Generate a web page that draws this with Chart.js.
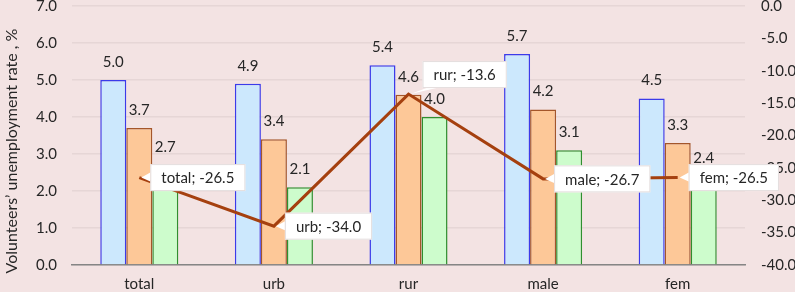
<!DOCTYPE html>
<html>
<head>
<meta charset="utf-8">
<script src="https://cdn.jsdelivr.net/npm/chart.js@4.4.1/dist/chart.umd.min.js"></script>
<style>
  body { margin: 0; background: #f3e3e3; }
  #wrap { position: relative; width: 795px; height: 292px; overflow: hidden; background: #f3e3e3; }
  #holder { position: absolute; left: 0; top: -19px; width: 795px; height: 313px; }
</style>
</head>
<body>
<div id="wrap"><div id="holder"><canvas id="grafico" width="795" height="313"></canvas></div></div>
<script>
// datos del grafico
const categorias = ["total", "urb", "rur", "male", "fem"];
const serieAzul = [5.0, 4.9, 5.4, 5.7, 4.5];
const serieNaranja = [3.7, 3.4, 4.6, 4.2, 3.3];
const serieVerde = [2.7, 2.1, 4.0, 3.1, 2.4];
const serieLinea = [-26.5, -34.0, -13.6, -26.7, -26.5];
const ejeIzq = { min: 0, max: 7, step: 1 };
const ejeDer = { min: -40, max: 0, step: 5 };
const tituloEje = "Volunteers\u2019 unemployment rate , %";

// donde va cada globo de la linea (solo estilo)
const globoLado = ["right", "right", "above", "right", "right"];

const fuente = "Lato, 'Open Sans', sans-serif";

// Plugin que pinta los valores encima de las barras y los globos de la linea
const etiquetas = {
  id: "etiquetas",
  afterDatasetsDraw(chart) {
    const ctx = chart.ctx;
    ctx.save();
    ctx.font = "15px " + fuente;
    ctx.fillStyle = "#262626";
    ctx.textAlign = "center";
    ctx.textBaseline = "middle";
    for (let d = 0; d < 3; d++) {
      const meta = chart.getDatasetMeta(d);
      meta.data.forEach((bar, i) => {
        const v = chart.data.datasets[d].data[i];
        ctx.fillText(v.toFixed(1), bar.x, bar.y - 18);
      });
    }

    // globos de la serie linea
    const metaL = chart.getDatasetMeta(3);
    ctx.font = "15px " + fuente;
    metaL.data.forEach((pt, i) => {
      const txt = categorias[i] + "; " + serieLinea[i].toFixed(1);
      const w = ctx.measureText(txt).width + 22;
      const h = 27;
      let bx, by, base;
      if (globoLado[i] === "above") {
        bx = pt.x + 14;
        by = pt.y - 6 - h;
        base = [[bx + 4, by + h], [bx + 14, by + h]];
      } else {
        bx = pt.x + 11;
        by = pt.y - h / 2;
        base = [[bx, pt.y - 5], [bx, pt.y + 4]];
      }
      ctx.fillStyle = "#ffffff";
      ctx.beginPath();
      ctx.moveTo(base[0][0], base[0][1]);
      ctx.lineTo(pt.x + 2, pt.y);
      ctx.lineTo(base[1][0], base[1][1]);
      ctx.closePath();
      ctx.fill();
      ctx.fillRect(bx, by, w, h);
      ctx.strokeStyle = "#e4dede";
      ctx.lineWidth = 1;
      ctx.strokeRect(bx + 0.5, by + 0.5, w - 1, h - 1);
      ctx.fillStyle = "#262626";
      ctx.textAlign = "left";
      ctx.fillText(txt, bx + 11, by + h / 2 + 1);
    });

    // titulo del eje izquierdo
    ctx.translate(12, 170);
    ctx.rotate(-Math.PI / 2);
    ctx.textAlign = "center";
    ctx.font = "16px " + fuente;
    ctx.fillStyle = "#262626";
    ctx.fillText(tituloEje, 0, 0);
    ctx.restore();
  },
};

new Chart(document.getElementById("grafico"), {
  type: "bar",
  data: {
    labels: categorias,
    datasets: [
      {
        label: "s1",
        data: serieAzul,
        backgroundColor: "#cce8fd",
        borderColor: "#3b3bea",
        borderWidth: 1.5,
        order: 2,
      },
      {
        label: "s2",
        data: serieNaranja,
        backgroundColor: "#fdc898",
        borderColor: "#a4562a",
        borderWidth: 1.5,
        order: 2,
      },
      {
        label: "s3",
        data: serieVerde,
        backgroundColor: "#cdfccc",
        borderColor: "#2f8f2f",
        borderWidth: 1.5,
        order: 2,
      },
      {
        type: "line",
        label: "linea",
        data: serieLinea,
        yAxisID: "y2",
        borderColor: "#a5400f",
        borderWidth: 3,
        pointRadius: 0,
        tension: 0,
        order: 1,
      },
    ],
  },
  options: {
    responsive: false,
    devicePixelRatio: 1,
    animation: false,
    layout: { padding: { top: 11, left: 0, right: 0, bottom: 0 } },
    datasets: { bar: { categoryPercentage: 0.58, barPercentage: 1.0 } },
    plugins: { legend: { display: false }, tooltip: { enabled: false } },
    scales: {
      x: {
        grid: { display: false, drawTicks: false },
        border: { color: "#858585", width: 1.5 },
        ticks: { color: "#262626", font: { family: fuente, size: 15 }, padding: 10 },
        afterFit: (s) => { s.height = 29; },
      },
      y: {
        position: "left",
        min: ejeIzq.min,
        max: ejeIzq.max,
        ticks: {
          stepSize: ejeIzq.step,
          padding: 15,
          color: "#262626",
          font: { family: fuente, size: 15 },
          callback: (v) => v.toFixed(1),
        },
        grid: { color: "#e6d6d6", lineWidth: 1.5, drawTicks: false },
        border: { display: false },
        afterFit: (s) => { s.width = 72; },
      },
      y2: {
        position: "right",
        min: ejeDer.min,
        max: ejeDer.max,
        ticks: {
          stepSize: ejeDer.step,
          padding: 16,
          color: "#262626",
          font: { family: fuente, size: 15 },
          callback: (v) => v.toFixed(1),
        },
        grid: { display: false, drawTicks: false },
        border: { display: false },
        afterFit: (s) => { s.width = 50; },
      },
    },
  },
  plugins: [etiquetas],
});
</script>
</body>
</html>
